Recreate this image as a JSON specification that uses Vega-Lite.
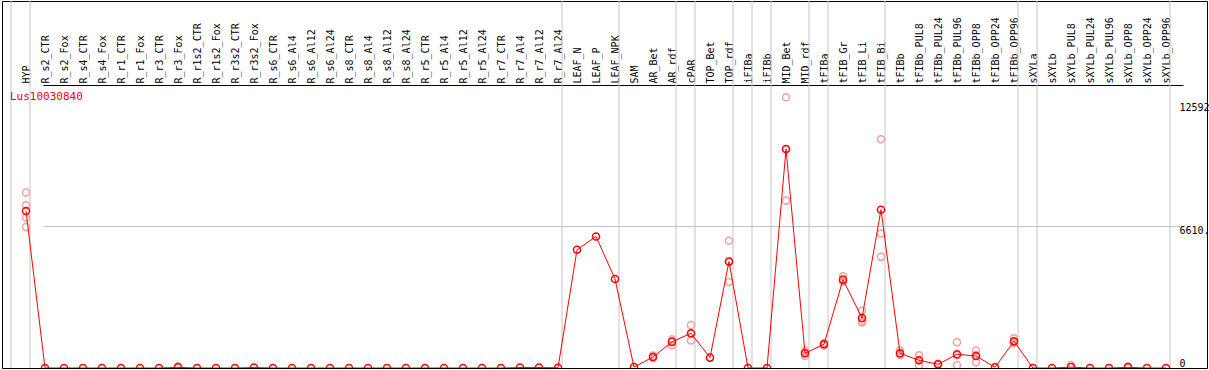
{
  "$schema": "https://vega.github.io/schema/vega-lite/v6.json",
  "width": 1205,
  "height": 367,
  "autosize": {"type": "none"},
  "padding": {"left": 2, "top": 1, "right": 2, "bottom": 2},
  "background": "white",
  "config": {"view": {"stroke": "black", "strokeWidth": 1}},
  "title": {"text": "Lus10030840", "anchor": "start", "frame": "group", "color": "#ff0000", "font": "DejaVu Sans Mono", "fontSize": 11, "fontWeight": "normal", "offset": 0, "dx": 8, "dy": 101, "baseline": "top"},
  "datasets": {
    "means": [
      {"cat": "HYP", "v": 7301}, {"cat": "R_s2_CTR", "v": 0}, {"cat": "R_s2_Fox", "v": 0}, {"cat": "R_s4_CTR", "v": 0}, {"cat": "R_s4_Fox", "v": 0},
      {"cat": "R_r1_CTR", "v": 0}, {"cat": "R_r1_Fox", "v": 0}, {"cat": "R_r3_CTR", "v": 0}, {"cat": "R_r3_Fox", "v": 30}, {"cat": "R_r1s2_CTR", "v": 0},
      {"cat": "R_r1s2_Fox", "v": 0}, {"cat": "R_r3s2_CTR", "v": 0}, {"cat": "R_r3s2_Fox", "v": 20}, {"cat": "R_s6_CTR", "v": 0}, {"cat": "R_s6_Al4", "v": 0},
      {"cat": "R_s6_Al12", "v": 0}, {"cat": "R_s6_Al24", "v": 0}, {"cat": "R_s8_CTR", "v": 0}, {"cat": "R_s8_Al4", "v": 0}, {"cat": "R_s8_Al12", "v": 0},
      {"cat": "R_s8_Al24", "v": 0}, {"cat": "R_r5_CTR", "v": 0}, {"cat": "R_r5_Al4", "v": 0}, {"cat": "R_r5_Al12", "v": 0}, {"cat": "R_r5_Al24", "v": 0},
      {"cat": "R_r7_CTR", "v": 0}, {"cat": "R_r7_Al4", "v": 20}, {"cat": "R_r7_Al12", "v": 20}, {"cat": "R_r7_Al24", "v": 10}, {"cat": "LEAF_N", "v": 5497},
      {"cat": "LEAF_P", "v": 6119}, {"cat": "LEAF_NPK", "v": 4141}, {"cat": "SAM", "v": 40}, {"cat": "AR_Bet", "v": 514}, {"cat": "AR_rdf", "v": 1214},
      {"cat": "cPAR", "v": 1619}, {"cat": "TOP_Bet", "v": 483}, {"cat": "TOP_rdf", "v": 4951}, {"cat": "iFIBa", "v": 0}, {"cat": "iFIBb", "v": 0},
      {"cat": "MID_Bet", "v": 10183}, {"cat": "MID_rdf", "v": 685}, {"cat": "tFIBa", "v": 1105}, {"cat": "tFIB_Gr", "v": 4110}, {"cat": "tFIB_Li", "v": 2320},
      {"cat": "tFIB_Bi", "v": 7364}, {"cat": "tFIBb", "v": 685}, {"cat": "tFIBb_PUL8", "v": 358}, {"cat": "tFIBb_PUL24", "v": 171}, {"cat": "tFIBb_PUL96", "v": 638},
      {"cat": "tFIBb_OPP8", "v": 560}, {"cat": "tFIBb_OPP24", "v": 30}, {"cat": "tFIBb_OPP96", "v": 1245}, {"cat": "sXYLa", "v": 0}, {"cat": "sXYLb", "v": 0},
      {"cat": "sXYLb_PUL8", "v": 40}, {"cat": "sXYLb_PUL24", "v": 0}, {"cat": "sXYLb_PUL96", "v": 0}, {"cat": "sXYLb_OPP8", "v": 30}, {"cat": "sXYLb_OPP24", "v": 0},
      {"cat": "sXYLb_OPP96", "v": 0}
    ],
    "reps": [
      {"cat": "HYP", "v": 8160}, {"cat": "HYP", "v": 7567}, {"cat": "HYP", "v": 7000}, {"cat": "HYP", "v": 6554},
      {"cat": "R_r3_Fox", "v": 80},
      {"cat": "AR_Bet", "v": 450}, {"cat": "AR_Bet", "v": 580},
      {"cat": "AR_rdf", "v": 1059}, {"cat": "AR_rdf", "v": 1250}, {"cat": "AR_rdf", "v": 1330},
      {"cat": "cPAR", "v": 1993}, {"cat": "cPAR", "v": 1277}, {"cat": "cPAR", "v": 1590},
      {"cat": "TOP_rdf", "v": 5917}, {"cat": "TOP_rdf", "v": 4002}, {"cat": "TOP_rdf", "v": 4935},
      {"cat": "MID_Bet", "v": 12592}, {"cat": "MID_Bet", "v": 7786}, {"cat": "MID_Bet", "v": 10171},
      {"cat": "MID_rdf", "v": 560}, {"cat": "MID_rdf", "v": 700}, {"cat": "MID_rdf", "v": 795},
      {"cat": "tFIBa", "v": 1050}, {"cat": "tFIBa", "v": 1160},
      {"cat": "tFIB_Gr", "v": 4266}, {"cat": "tFIB_Gr", "v": 4050}, {"cat": "tFIB_Gr", "v": 4015},
      {"cat": "tFIB_Li", "v": 2662}, {"cat": "tFIB_Li", "v": 2118}, {"cat": "tFIB_Li", "v": 2180},
      {"cat": "tFIB_Bi", "v": 10636}, {"cat": "tFIB_Bi", "v": 6259}, {"cat": "tFIB_Bi", "v": 5169},
      {"cat": "tFIBb", "v": 809}, {"cat": "tFIBb", "v": 640}, {"cat": "tFIBb", "v": 606},
      {"cat": "tFIBb_PUL8", "v": 591}, {"cat": "tFIBb_PUL8", "v": 124}, {"cat": "tFIBb_PUL8", "v": 360},
      {"cat": "tFIBb_PUL24", "v": 200}, {"cat": "tFIBb_PUL24", "v": 150},
      {"cat": "tFIBb_PUL96", "v": 1199}, {"cat": "tFIBb_PUL96", "v": 124}, {"cat": "tFIBb_PUL96", "v": 591},
      {"cat": "tFIBb_OPP8", "v": 809}, {"cat": "tFIBb_OPP8", "v": 265}, {"cat": "tFIBb_OPP8", "v": 606},
      {"cat": "tFIBb_OPP96", "v": 1386}, {"cat": "tFIBb_OPP96", "v": 1200}, {"cat": "tFIBb_OPP96", "v": 1150},
      {"cat": "sXYLb_PUL8", "v": 140}, {"cat": "sXYLb_OPP8", "v": 80}
    ],
    "seps": [
      {"cat": "HYP", "side": "before"},
      {"cat": "HYP", "side": "after"}, {"cat": "R_r7_Al24", "side": "after"}, {"cat": "LEAF_NPK", "side": "after"},
      {"cat": "AR_rdf", "side": "after"}, {"cat": "cPAR", "side": "after"}, {"cat": "TOP_rdf", "side": "after"},
      {"cat": "iFIBa", "side": "after"}, {"cat": "iFIBb", "side": "after"}, {"cat": "MID_rdf", "side": "after"},
      {"cat": "tFIBa", "side": "after"}, {"cat": "tFIB_Bi", "side": "after"}, {"cat": "tFIBb_OPP96", "side": "after"},
      {"cat": "sXYLa", "side": "after"}, {"cat": "sXYLb_OPP96", "side": "after"}
    ]
  },
  "encoding": {
    "x": {
      "field": "cat", "type": "nominal",
      "scale": {
        "type": "point", "padding": 0, "range": [24, 1164],
        "domain": ["HYP","R_s2_CTR","R_s2_Fox","R_s4_CTR","R_s4_Fox","R_r1_CTR","R_r1_Fox","R_r3_CTR","R_r3_Fox","R_r1s2_CTR","R_r1s2_Fox","R_r3s2_CTR","R_r3s2_Fox","R_s6_CTR","R_s6_Al4","R_s6_Al12","R_s6_Al24","R_s8_CTR","R_s8_Al4","R_s8_Al12","R_s8_Al24","R_r5_CTR","R_r5_Al4","R_r5_Al12","R_r5_Al24","R_r7_CTR","R_r7_Al4","R_r7_Al12","R_r7_Al24","LEAF_N","LEAF_P","LEAF_NPK","SAM","AR_Bet","AR_rdf","cPAR","TOP_Bet","TOP_rdf","iFIBa","iFIBb","MID_Bet","MID_rdf","tFIBa","tFIB_Gr","tFIB_Li","tFIB_Bi","tFIBb","tFIBb_PUL8","tFIBb_PUL24","tFIBb_PUL96","tFIBb_OPP8","tFIBb_OPP24","tFIBb_OPP96","sXYLa","sXYLb","sXYLb_PUL8","sXYLb_PUL24","sXYLb_PUL96","sXYLb_OPP8","sXYLb_OPP24","sXYLb_OPP96"]
      },
      "axis": {
        "orient": "top", "offset": -84, "title": null,
        "domain": false, "ticks": false, "grid": false,
        "labelAngle": -90, "labelAlign": "left", "labelBaseline": "middle", "labelPadding": 2,
        "labelFont": "DejaVu Sans Mono", "labelFontSize": 10, "labelColor": "black",
        "labelOverlap": false, "labelBound": false, "labelLimit": 0
      }
    }
  },
  "layer": [
    {
      "data": {"name": "seps"},
      "transform": [{"filter": "datum.side == 'after'"}],
      "mark": {"type": "rule", "color": "#c4c4c4", "strokeWidth": 1, "xOffset": 4}
    },
    {
      "data": {"name": "seps"},
      "transform": [{"filter": "datum.side == 'before'"}],
      "mark": {"type": "rule", "color": "#c4c4c4", "strokeWidth": 1, "xOffset": -15}
    },
    {
      "data": {"name": "reps"},
      "mark": {"type": "point", "shape": "circle", "filled": false, "stroke": "#f0a0a0", "strokeWidth": 1.5, "size": 50, "opacity": 1, "clip": true},
      "encoding": {
        "y": {"field": "v", "type": "quantitative", "scale": {"domain": [0, 17071], "nice": false, "zero": true},
          "axis": {"orient": "right", "offset": -30, "title": null, "values": [0, 6610, 12592, 13164], "format": "d",
            "labelExpr": "datum.value == 6610 ? '6610.' : datum.value > 13000 ? '' : datum.label",
            "domain": false, "ticks": false, "grid": true, "gridWidth": 1,
            "gridColor": {"condition": {"test": "datum.value == 6610", "value": "#c4c4c4"}, "value": "black"},
            "gridOpacity": {"condition": {"test": "datum.value == 6610 || datum.value > 13000", "value": 1}, "value": 0},
            "labelBaseline": {"condition": {"test": "datum.value < 1", "value": "bottom"}, "value": "top"},
            "labelOffset": {"condition": {"test": "datum.value > 10000", "value": 5}, "value": 0},
            "labelPadding": 2, "labelFont": "DejaVu Sans Mono", "labelFontSize": 10, "labelColor": "black",
            "labelFlush": false, "labelOverlap": false, "labelBound": false}}
      }
    },
    {
      "data": {"name": "means"},
      "mark": {"type": "line", "color": "#ff0000", "strokeWidth": 1, "clip": true},
      "encoding": {
        "y": {"field": "v", "type": "quantitative", "scale": {"domain": [0, 17071], "nice": false, "zero": true}},
        "order": {"value": null}
      }
    },
    {
      "data": {"name": "means"},
      "mark": {"type": "point", "shape": "circle", "filled": false, "stroke": "#ff0000", "strokeWidth": 1.5, "size": 50, "opacity": 1, "clip": true},
      "encoding": {
        "y": {"field": "v", "type": "quantitative", "scale": {"domain": [0, 17071], "nice": false, "zero": true}}
      }
    }
  ]
}
